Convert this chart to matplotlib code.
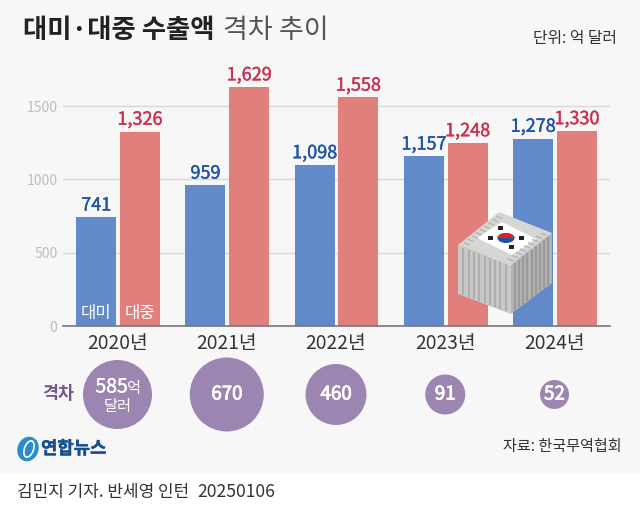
#!/usr/bin/env python3
"""
Korea exports to US and China, yearly bars with gap circles.
"""

import matplotlib
matplotlib.use("Agg")
import matplotlib.patheffects as pe
import matplotlib.pyplot as plt
from matplotlib.patches import Circle, Ellipse, Polygon, Rectangle

plt.rcParams["font.family"] = ["Noto Sans CJK KR", "DejaVu Sans"]

years = ["2020년", "2021년", "2022년", "2023년", "2024년"]
us_exports = [741, 959, 1098, 1157, 1278]
china_exports = [1326, 1629, 1558, 1248, 1330]
gaps = ["585", "670", "460", "91", "52"]
y_ticks = [0, 500, 1000, 1500]

BLUE = "#6289c9"
RED = "#e17f7d"
BLUE_TXT = "#1f56a5"
RED_TXT = "#c9334f"
PURPLE = "#9d85b1"
W, H = 640, 514


def thick(color, width=0.5):
    return [pe.withStroke(linewidth=width, foreground=color)]


fig = plt.figure(figsize=(6.4, 5.14), dpi=100, facecolor="white")

# overlay in pixel coordinates for panel, title and decorations
bg = fig.add_axes([0, 0, 1, 1], zorder=0)
bg.set_xlim(0, W)
bg.set_ylim(H, 0)
bg.axis("off")
bg.add_patch(Rectangle((0, 0), W, 474, color="#f7f7f7", lw=0))

ax = fig.add_axes([63 / W, 1 - 326 / H, (610 - 63) / W, (326 - 70) / H], zorder=1)
ax.patch.set_alpha(0)
step = 109.25
ax.set_xlim((63 - 117.5) / step, (610 - 117.5) / step)
ax.set_ylim(0, 256 / (220 / 1500))
for s in ["top", "right", "left"]:
    ax.spines[s].set_visible(False)
ax.spines["bottom"].set_color("#777777")
ax.spines["bottom"].set_linewidth(1.2)
ax.set_yticks(y_ticks)
ax.set_yticklabels(y_ticks, color="#bdbdbd", fontsize=10)
ax.tick_params(axis="y", length=0, pad=4)
ax.grid(axis="y", color="#d8d8d8", lw=1)
ax.set_axisbelow(True)
ax.set_xticks(range(len(years)))
ax.set_xticklabels(years, fontsize=13.8, color="#333333")
ax.tick_params(axis="x", length=0, pad=5)

pos = list(range(len(years)))
ax.bar([p - 0.195 for p in pos], us_exports, width=0.366, color=BLUE)
ax.bar([p + 0.205 for p in pos], china_exports, width=0.366, color=RED)
for p, u, c in zip(pos, us_exports, china_exports):
    ax.annotate(f"{u:,}", (p - 0.195, u), xytext=(0, 2), textcoords="offset points",
                ha="center", va="bottom", color=BLUE_TXT, fontsize=13,
                path_effects=thick(BLUE_TXT, 0.3))
    ax.annotate(f"{c:,}", (p + 0.205, c), xytext=(0, 2), textcoords="offset points",
                ha="center", va="bottom", color=RED_TXT, fontsize=13,
                path_effects=thick(RED_TXT, 0.3))
ax.text(-0.195, 85, "대미", color="white", ha="center", va="center", fontsize=12)
ax.text(0.205, 85, "대중", color="white", ha="center", va="center", fontsize=12)

top = fig.add_axes([0, 0, 1, 1], zorder=2)
top.set_xlim(0, W)
top.set_ylim(H, 0)
top.axis("off")

top.text(23, 31, "대미·대중 수출액", fontsize=19, fontweight="bold", color="#222222",
         va="center", ha="left")
top.text(223, 31, "격차 추이", fontsize=19.5, color="#555555", va="center", ha="left")
top.text(617, 39, "단위: 억 달러", fontsize=11.4, color="#333333", va="center", ha="right")

# gap circles
radii = [34.5, 37, 30.5, 20, 14.5]
for i, (g, r) in enumerate(zip(gaps, radii)):
    cx = 117.5 + i * step
    top.add_patch(Circle((cx, 394.5), r, color=PURPLE, lw=0))
    if i == 0:
        top.text(cx - 6, 387, g, color="white", fontsize=14,
                 ha="center", va="center", path_effects=thick("white", 0.3))
        top.text(cx + 17, 388, "억", color="white", fontsize=11, ha="center", va="center")
        top.text(cx, 407, "달러", color="white", fontsize=11, ha="center", va="center")
    else:
        top.text(cx, 394, g, color="white", fontsize=13.5, ha="center", va="center",
                 path_effects=thick("white", 0.6))
top.text(58, 394, "격차", color="#74558f", fontsize=12.5, fontweight="bold",
         ha="center", va="center")

# container
top.add_patch(Polygon([(458, 245), (511, 265), (511, 314), (458, 294)], color="#c9c9c7", lw=0))
top.add_patch(Polygon([(511, 265), (552, 233), (552, 283), (511, 314)], color="#b4b4b2", lw=0))
top.add_patch(Polygon([(458, 245), (499, 212), (552, 233), (511, 265)], color="#d6d6d4", lw=0))
for k in range(1, 10):
    t = k / 10
    top.plot([458 + 53 * t] * 2, [247 + 20 * t, 292 + 20 * t], color="#aeaeac", lw=1.6)
    top.plot([511 + 41 * t] * 2, [267 - 32 * t, 312 - 31 * t], color="#9a9a98", lw=1.6)
    # short ribs along the roof edges
    top.plot([458 + 41 * t + 2, 458 + 41 * t + 7], [245 - 33 * t + 1, 245 - 33 * t + 3],
             color="#b4b4b2", lw=1)
    top.plot([511 + 41 * t - 7, 511 + 41 * t - 2], [265 - 32 * t - 3, 265 - 32 * t - 1],
             color="#b4b4b2", lw=1)
top.add_patch(Polygon([(477, 238), (502, 222), (536, 239), (512, 255)], color="white", lw=0))
top.add_patch(Ellipse((506, 238), 17, 10, color="#1f4fa0", lw=0))
red_half = Ellipse((506, 238), 17, 10, color="#d9232e", lw=0)
top.add_patch(red_half)
red_half.set_clip_path(Rectangle((497, 230), 18, 7.5, transform=top.transData))
for fx, fy in [(490, 238), (521, 238), (500, 228), (511, 247)]:
    top.add_patch(Rectangle((fx - 2.5, fy - 2), 5, 4, color="#222222", lw=0))

# agency logo
top.add_patch(Ellipse((28, 449), 21, 25, angle=20, color="#2b8bd0", lw=0))
top.add_patch(Ellipse((29, 449), 9, 17, angle=20, fill=False, ec="white", lw=1.2))
top.text(41, 449, "연합뉴스", color="#174f8f", fontsize=12.8, fontweight="bold",
         ha="left", va="center", path_effects=thick("#174f8f", 0.3))

top.text(622, 447, "자료: 한국무역협회", fontsize=10.9, color="#333333", ha="right", va="center")
top.text(17, 492, "김민지 기자. 반세영 인턴", fontsize=12.2, color="#333333", ha="left", va="center")
top.text(197, 492, "20250106", fontsize=12.6, color="#333333", ha="left", va="center")

fig.savefig("out.png", dpi=100)
